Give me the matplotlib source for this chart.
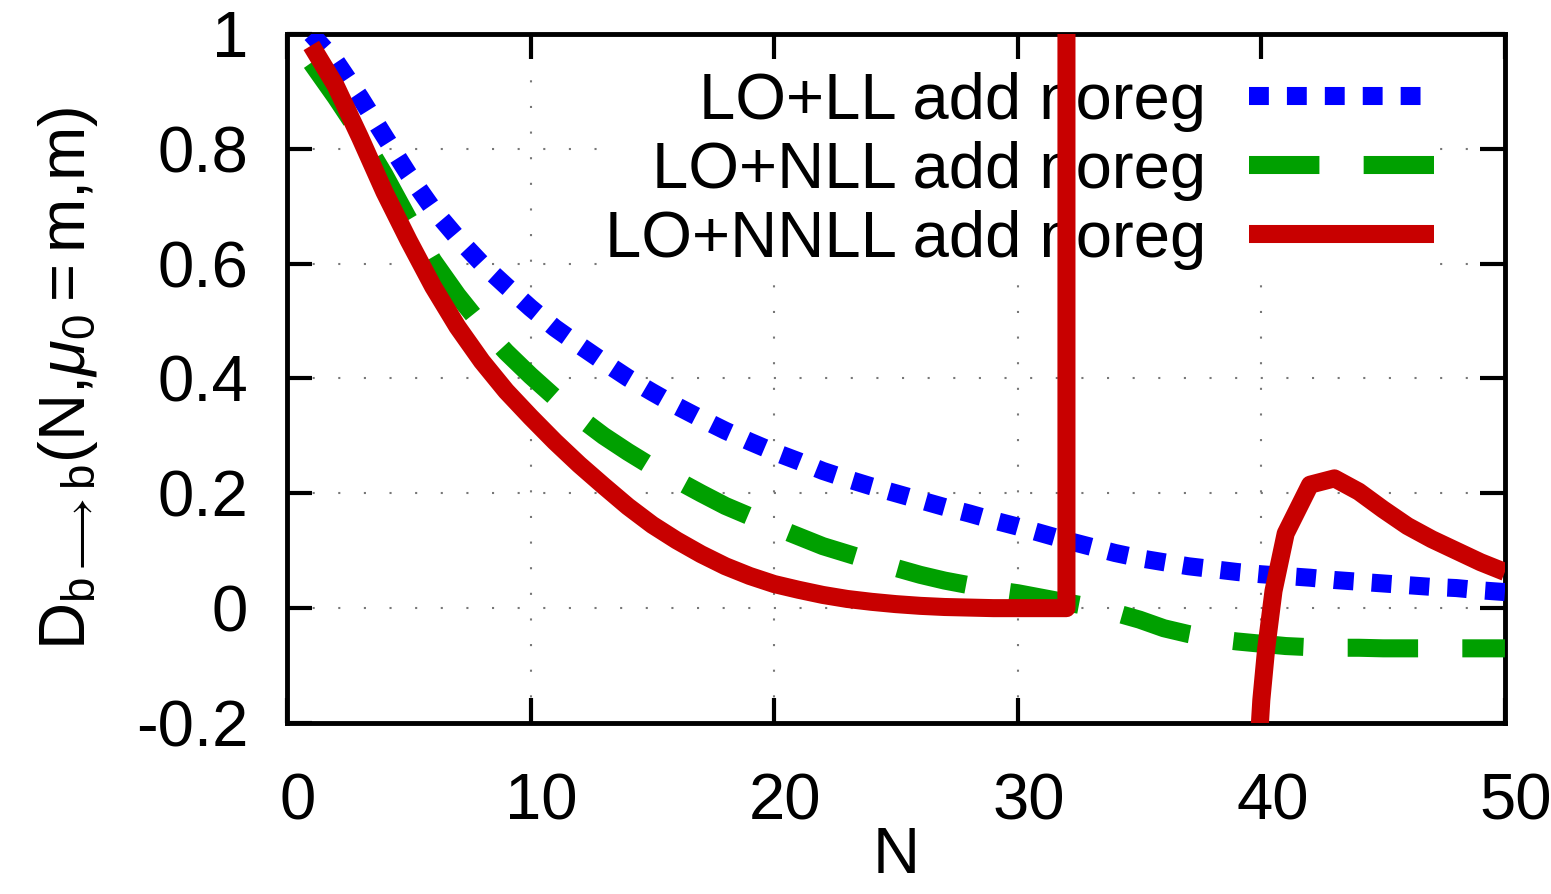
import numpy as np
import matplotlib
matplotlib.use("Agg")
import matplotlib.pyplot as plt
import matplotlib.transforms as mtransforms

plt.rcParams["font.family"] = ["Liberation Sans", "DejaVu Sans"]
plt.rcParams["mathtext.fontset"] = "custom"
plt.rcParams["mathtext.rm"] = "Liberation Sans"
plt.rcParams["mathtext.it"] = "Liberation Sans:italic"

# data (values at integer N)
n = np.arange(1, 51)
ll_noreg = [1.0, 0.953, 0.89, 0.822, 0.755, 0.695, 0.645, 0.6, 0.561, 0.523,
            0.488, 0.458, 0.429, 0.401, 0.376, 0.352, 0.33, 0.309, 0.29, 0.272,
            0.256, 0.239, 0.225, 0.212, 0.2, 0.188, 0.176, 0.165, 0.153, 0.142,
            0.13, 0.118, 0.107, 0.096, 0.087, 0.08, 0.073, 0.068, 0.063, 0.059,
            0.056, 0.053, 0.049, 0.046, 0.043, 0.04, 0.037, 0.035, 0.031, 0.028]
nll_noreg = [0.95, 0.89, 0.826, 0.755, 0.677, 0.605, 0.545, 0.492, 0.446, 0.405,
             0.367, 0.332, 0.3, 0.272, 0.246, 0.223, 0.2, 0.178, 0.16, 0.142,
             0.125, 0.108, 0.095, 0.082, 0.07, 0.058, 0.048, 0.04, 0.032, 0.026,
             0.018, 0.01, 0.002, -0.008, -0.02, -0.035, -0.045, -0.053, -0.058, -0.062,
             -0.066, -0.068, -0.069, -0.069, -0.07, -0.07, -0.07, -0.07, -0.07, -0.07]
# NNLL: diverges after N=32, comes back from below near N=40
nnll_n = list(range(1, 33)) + [32, np.nan, 39.8, 40.0, 40.2, 40.5] + list(range(41, 51))
nnll_noreg = [0.98, 0.91, 0.82, 0.725, 0.64, 0.56, 0.49, 0.43, 0.378, 0.333,
              0.29, 0.25, 0.213, 0.177, 0.145, 0.118, 0.094, 0.073, 0.056, 0.042,
              0.032, 0.023, 0.016, 0.011, 0.007, 0.004, 0.002, 0.001, 0.0, 0.0,
              0.0, 0.0, 5.0, np.nan, -0.3, -0.16, -0.07, 0.03,
              0.13, 0.215, 0.226, 0.203, 0.172, 0.143, 0.12, 0.1, 0.08, 0.063]

xticks = [0, 10, 20, 30, 40, 50]
yticks = [-0.2, 0, 0.2, 0.4, 0.6, 0.8, 1]
ytick_labels = ["-0.2", "0", "0.2", "0.4", "0.6", "0.8", "1"]

fs = 47
fig = plt.figure(figsize=(15.51, 8.94), dpi=100)
ax = fig.add_axes([0.185, 0.1913, 0.7853, 0.7707])

lw = 13
ax.plot(n, ll_noreg, color="#0000ff", lw=lw, linestyle=(0, (1.1, 1.0)),
        dash_capstyle="butt", label="LO+LL add noreg", zorder=3)
ax.plot(n, nll_noreg, color="#00a000", lw=lw, linestyle=(0, (3.9, 2.45)),
        dash_capstyle="butt", label="LO+NLL add noreg", zorder=3)
ax.plot(nnll_n, nnll_noreg, color="#c80000", lw=lw, solid_joinstyle="round",
        solid_capstyle="butt", label="LO+NNLL add noreg", zorder=3)

ax.set_xlim(0, 50)
ax.set_ylim(-0.2, 1)
ax.set_xticks(xticks)
ax.set_xticklabels([str(x) for x in xticks])
ax.set_yticks(yticks)
ax.set_yticklabels(ytick_labels)
ax.tick_params(direction="in", length=18, width=3, top=True, right=True,
               labelsize=fs)
ax.tick_params(axis="y", pad=28)
ax.tick_params(axis="x", pad=36)
for s in ax.spines.values():
    s.set_linewidth(3.5)

# gnuplot puts the x labels a little to the right of the ticks
shift = mtransforms.ScaledTranslation(0.11, 0, fig.dpi_scale_trans)
for lab in ax.get_xticklabels():
    lab.set_transform(lab.get_transform() + shift)

ax.grid(True, color="#777777", lw=1.5, linestyle=(0, (1, 11.3)))
ax.set_axisbelow(True)

ax.set_xlabel("N", fontsize=fs, labelpad=0)
ax.xaxis.set_label_coords(0.5, -0.15)
ax.set_ylabel(r"$\mathrm{D}_{\mathrm{b}\longrightarrow\mathrm{b}}(\mathrm{N}{,}\mu_{0} = \mathrm{m}{,}\mathrm{m})$",
              fontsize=fs, labelpad=26)

leg = ax.legend(loc="upper right", bbox_to_anchor=(0.947, 0.955), fontsize=fs,
                markerfirst=False, handlelength=2.83, handletextpad=0.66,
                labelspacing=0.14, borderpad=0.1, borderaxespad=0,
                frameon=True, facecolor="white", edgecolor="none", framealpha=1,
                fancybox=False)
leg.set_zorder(2.5)

fig.savefig("out.png", dpi=100)
